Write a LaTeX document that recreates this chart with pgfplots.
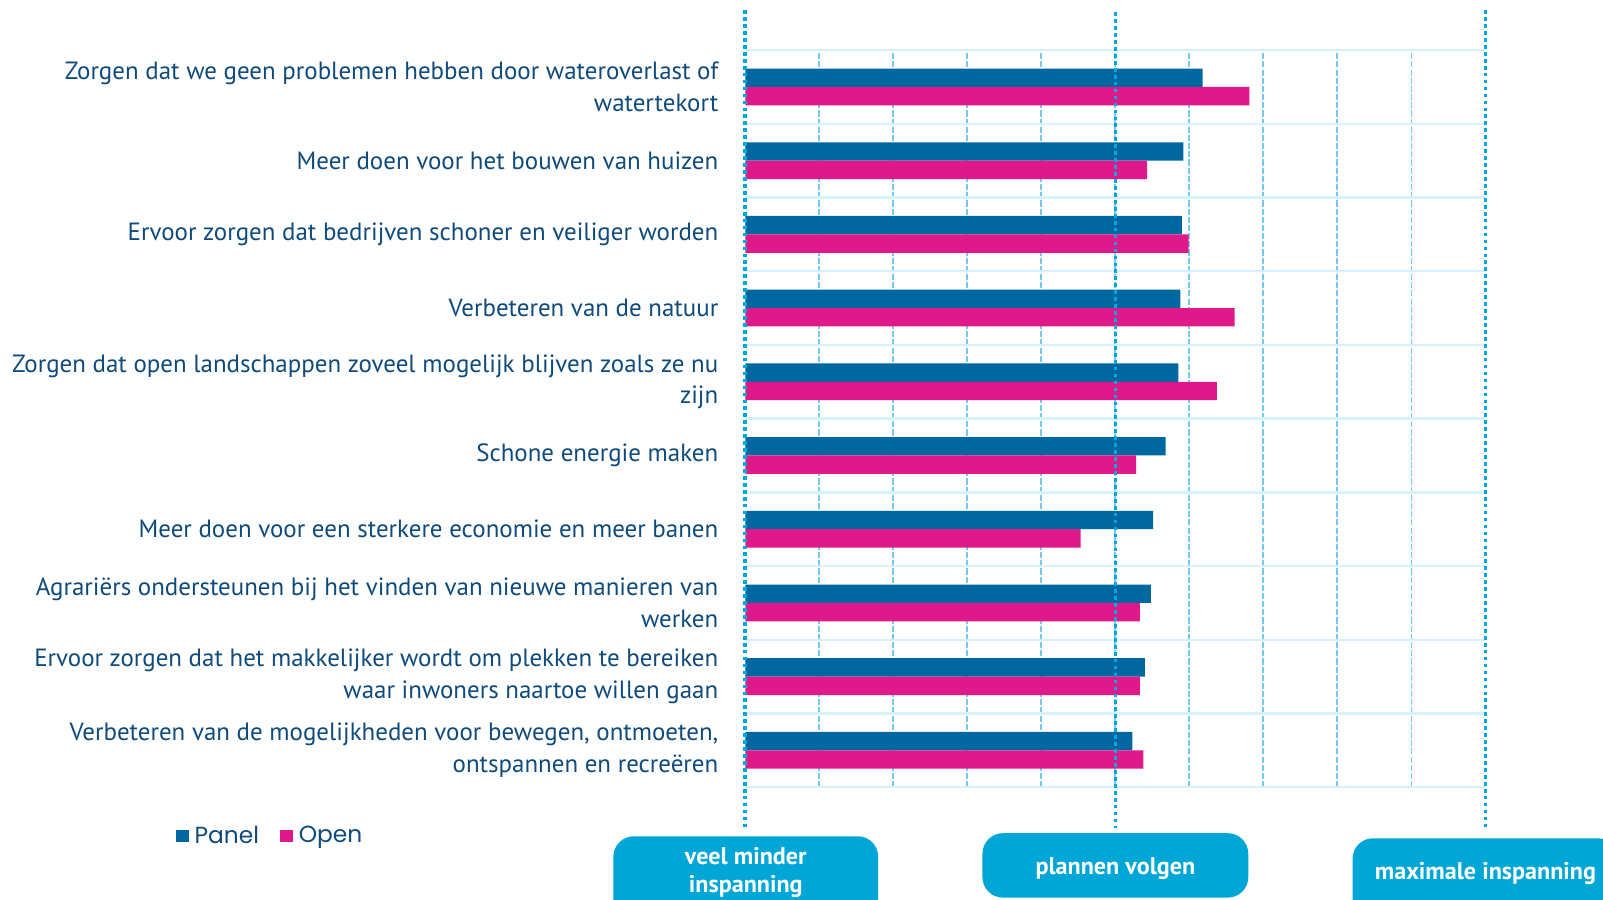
\documentclass[border=0pt]{standalone}
\usepackage{fontspec}
\setmainfont{PT Sans}
\newfontfamily\legendfont{Poppins}
\usepackage{pgfplots}
\pgfplotsset{compat=1.18}

\definecolor{panelcol}{HTML}{0067A0}
\definecolor{opencol}{HTML}{E0198A}
\definecolor{labelcol}{HTML}{0E4A7B}
\definecolor{dotcol}{HTML}{00A8DC}
\definecolor{dashcol}{HTML}{74C8F4}
\definecolor{hgrid}{HTML}{D4F1FC}
\definecolor{boxcol}{HTML}{00A6D6}

% mean score per theme, 0 = veel minder inspanning, 5 = plannen volgen, 10 = maximale inspanning
\pgfplotstableread{
y  Panel Open
10 6.18  6.81
9  5.92  5.43
8  5.90  5.99
7  5.88  6.61
6  5.85  6.37
5  5.68  5.28
4  5.51  4.53
3  5.48  5.33
2  5.40  5.33
1  5.23  5.38
}\scores

\begin{document}
\begin{tikzpicture}
\useasboundingbox (0,0) rectangle (784pt,440pt);
\begin{axis}[
    at={(364.5pt,55pt)}, anchor=south west,
    scale only axis,
    width=362pt, height=360.5pt,
    xmin=0, xmax=10, ymin=0.5, ymax=10.5,
    xbar, bar width=9pt,
    clip=false,
    axis line style={draw=none},
    tick style={draw=none},
    major tick length=0pt, minor tick length=0pt,
    xtick={1,...,9}, xticklabels={},
    xmajorgrids,
    major x grid style={dashcol, line width=0.9pt, dash pattern=on 3pt off 1pt},
    ytick={1,...,10},
    minor ytick={0.5,1.5,...,10.5},
    yminorgrids,
    minor y grid style={hgrid, line width=1.2pt},
    yticklabels={
        {Verbeteren van de mogelijkheden voor bewegen, ontmoeten,\\ontspannen en recreëren},
        {Ervoor zorgen dat het makkelijker wordt om plekken te bereiken\\waar inwoners naartoe willen gaan},
        {Agrariërs ondersteunen bij het vinden van nieuwe manieren van\\werken},
        {Meer doen voor een sterkere economie en meer banen},
        {Schone energie maken},
        {Zorgen dat open landschappen zoveel mogelijk blijven zoals ze nu\\zijn},
        {Verbeteren van de natuur},
        {Ervoor zorgen dat bedrijven schoner en veiliger worden},
        {Meer doen voor het bouwen van huizen},
        {Zorgen dat we geen problemen hebben door wateroverlast of\\watertekort}
    },
    yticklabel style={align=right, anchor=east, inner sep=0pt, xshift=-13pt,
        text=labelcol, font=\fontsize{12.2}{15.5}\selectfont},
    legend columns=2,
    legend image code/.code={\fill[#1] (0pt,-3pt) rectangle (6pt,3pt);},
    legend style={at={(axis description cs:0,0)}, anchor=west,
        xshift=-278.5pt, yshift=-24pt, draw=none, fill=none, inner sep=0pt,
        text=labelcol, font=\legendfont\fontsize{11.4}{13}\selectfont,
        nodes={inner sep=1.5pt},
        /tikz/every odd column/.append style={column sep=1.5pt},
        /tikz/every even column/.append style={column sep=9pt}},
]
\addplot[fill=panelcol, draw=none, bar shift=4.5pt] table[x=Panel, y=y] {\scores};
\addplot[fill=opencol, draw=none, bar shift=-4.5pt] table[x=Open, y=y] {\scores};
\legend{Panel, Open}

\draw[dotcol, line width=1.8pt, dash pattern=on 1.8pt off 1.6pt]
    ([yshift=19.5pt]axis cs:0,10.5) -- ([yshift=-21pt]axis cs:0,0.5);
\draw[dotcol, line width=1.8pt, dash pattern=on 1.8pt off 1.6pt]
    ([yshift=18.5pt]axis cs:5,10.5) -- ([yshift=-20pt]axis cs:5,0.5);
\draw[dotcol, line width=1.8pt, dash pattern=on 1.8pt off 1.6pt]
    ([yshift=19.5pt]axis cs:10,10.5) -- ([yshift=-21pt]axis cs:10,0.5);
\end{axis}

\fill[boxcol, rounded corners=10pt] (300pt,-12pt) rectangle (429.5pt,31pt);
\fill[boxcol, rounded corners=10pt] (480.5pt,1pt) rectangle (610.5pt,32.5pt);
\fill[boxcol, rounded corners=10pt] (661.5pt,-12pt) rectangle (791.5pt,30pt);
\node[white, font=\bfseries\fontsize{11.8}{13.5}\selectfont, align=center] at (364.75pt,13.25pt) {veel minder\\inspanning};
\node[white, font=\bfseries\fontsize{11.8}{13.5}\selectfont] at (545.5pt,15pt) {plannen volgen};
\node[white, font=\bfseries\fontsize{11.8}{13.5}\selectfont] at (726.5pt,13pt) {maximale inspanning};
\end{tikzpicture}
\end{document}
